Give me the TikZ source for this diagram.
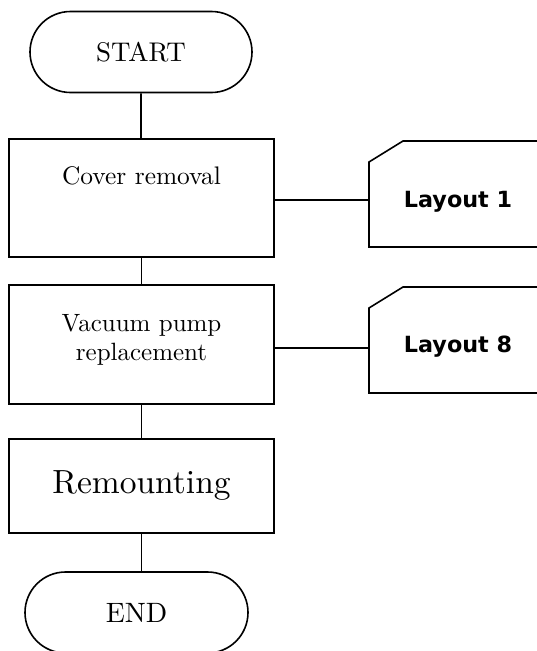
\documentclass[tikz,border=0pt]{standalone}
\usepackage{fontspec}
\setmainfont{lmroman10-regular}[Extension=.otf]
\newfontfamily\layfont{DejaVu Sans}
\usetikzlibrary{shapes.misc}
\begin{document}
\begin{tikzpicture}[x=1pt,y=-1pt,line width=1.6pt,
  term/.style={draw,rounded rectangle,minimum width=#1,minimum height=81pt,inner sep=0pt},
  stepbox/.style={draw,rectangle,minimum width=265pt,inner sep=0pt},
  laytext/.style={font=\layfont\bfseries\fontsize{22.3}{26}\selectfont,anchor=base}]
\useasboundingbox (0,0) rectangle (537,651);
\node[term=222pt,font=\fontsize{27}{32}\selectfont] (start) at (141,52) {START};
\node[stepbox,minimum height=118pt] (cover) at (141.5,198) {};
\node[anchor=base,font=\fontsize{25.4}{30}\selectfont] (covert) at (141.5,184) {Cover removal};
\node[stepbox,minimum height=119pt] (pump) at (141.5,344.5) {};
\node[align=center,font=\fontsize{25}{29}\selectfont] (pumpt) at (141.5,339.5) {Vacuum pump\\replacement};
\node[stepbox,minimum height=94pt,font=\fontsize{33.5}{38}\selectfont] (remount) at (141.5,486) {Remounting};
\node[term=223pt,font=\fontsize{28}{32}\selectfont] (end) at (136.5,612.5) {END};
\draw (start) -- (start.south |- cover.north);
\draw (cover.south) -- (pump.north);
\draw (pump.south) -- (remount.north);
\draw (remount.south) -- (remount.south |- end.north);
% Layout 1
\coordinate (l1) at (369,200);
\draw (545,141) -- (403,141) -- (369,162) -- (369,247) -- (545,247);
\node[laytext] (lay1) at (458,207) {Layout 1};
\draw (cover.east |- l1) -- (l1);
% Layout 8
\coordinate (l8) at (369,348);
\draw (545,287) -- (403,287) -- (369,308) -- (369,393) -- (545,393);
\node[laytext] (lay8) at (458,352) {Layout 8};
\draw (pump.east |- l8) -- (l8);
\end{tikzpicture}
\end{document}
